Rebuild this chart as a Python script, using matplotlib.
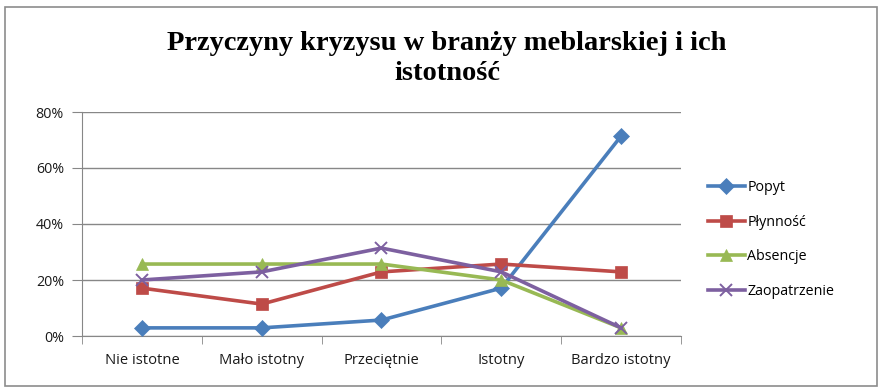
import matplotlib
matplotlib.use("Agg")
import matplotlib.pyplot as plt
from matplotlib.patches import Rectangle
from matplotlib.ticker import FuncFormatter, FixedLocator, NullFormatter

# dane (udzial odpowiedzi, %)
kategorie = ["Nie istotne", "Mało istotny", "Przeciętnie", "Istotny", "Bardzo istotny"]
popyt = [2.9, 2.9, 5.7, 17.1, 71.4]
plynnosc = [17.1, 11.4, 22.9, 25.7, 22.9]
absencje = [25.7, 25.7, 25.7, 20.0, 2.9]
zaopatrzenie = [20.0, 22.9, 31.4, 22.9, 2.9]

serie = [
    ("Popyt", popyt, "#4A7EBB", "D", 8),
    ("Płynność", plynnosc, "#BE4B48", "s", 9),
    ("Absencje", absencje, "#98B954", "^", 9),
    ("Zaopatrzenie", zaopatrzenie, "#7D60A0", "x", 9),
]

W, H = 887, 392
fig = plt.figure(figsize=(W / 100, H / 100), dpi=100)
fig.patches.append(Rectangle((5 / W, 1 - 386 / H), 872 / W, 379 / H,
                             transform=fig.transFigure, fill=False,
                             edgecolor="#8c8c8c", linewidth=1.2))

ax = fig.add_axes([82 / W, 1 - 336 / H, 599 / W, 224 / H])
x = list(range(len(kategorie)))
for nazwa, vals, kolor, mk, ms in serie:
    ax.plot(x, vals, color=kolor, linewidth=2.6, marker=mk, markersize=ms,
            markeredgewidth=1.4 if mk == "x" else 0.5, markeredgecolor=kolor,
            label=nazwa, zorder=3)

ax.set_xlim(-0.5, len(kategorie) - 0.5)
ax.set_ylim(0, 80)
ax.set_yticks([0, 20, 40, 60, 80])
ax.yaxis.set_major_formatter(FuncFormatter(lambda v, p: "%d%%" % v))
ax.grid(axis="y", color="#878787", linewidth=1.0, zorder=0)

# etykiety kategorii bez kresek, kreski na granicach
ax.set_xticks(x)
ax.set_xticklabels(kategorie, fontfamily="Open Sans", fontsize=10.6, color="#1a1a1a")
ax.tick_params(axis="x", length=0, pad=12)
ax.xaxis.set_minor_locator(FixedLocator([i - 0.5 for i in range(len(kategorie) + 1)]))
ax.xaxis.set_minor_formatter(NullFormatter())
ax.tick_params(axis="x", which="minor", length=6, color="#878787", direction="out")
ax.tick_params(axis="y", length=7, color="#878787", pad=6, labelsize=10.3, labelcolor="#1a1a1a")
for lab in ax.get_yticklabels():
    lab.set_fontfamily("Open Sans")

for s in ["top", "right"]:
    ax.spines[s].set_visible(False)
ax.spines["left"].set_color("#878787")
ax.spines["bottom"].set_color("#878787")

fig.text(447 / W, 1 - 43 / H, "Przyczyny kryzysu w branży meblarskiej i ich",
         ha="center", va="center", fontfamily="Liberation Serif",
         fontweight="bold", fontsize=20.5)
fig.text(447 / W, 1 - 74 / H, "istotność",
         ha="center", va="center", fontfamily="Liberation Serif",
         fontweight="bold", fontsize=20.5)

leg = fig.legend(loc="upper left", bbox_to_anchor=(695 / W, 1 - 167 / H),
                 frameon=False, prop={"family": "Open Sans", "size": 10.3},
                 handlelength=2.6, handletextpad=0.15, labelspacing=1.38)

fig.savefig("out.png", dpi=100)
